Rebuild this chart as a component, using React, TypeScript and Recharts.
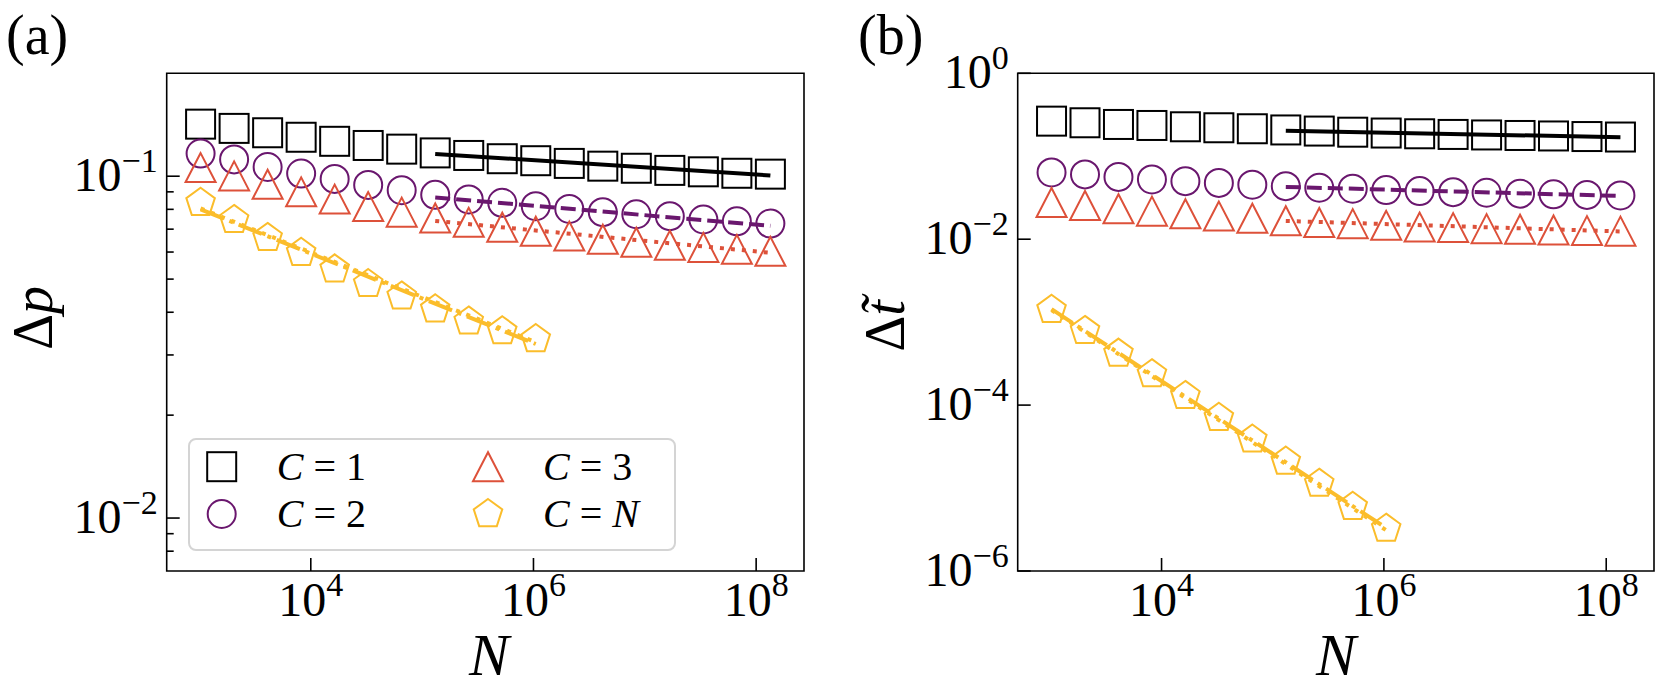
import React from 'react';
import { ComposedChart, Scatter, XAxis, YAxis, ReferenceArea } from 'recharts';

// ---------- data ----------
const N_ALL = [1024, 2048, 4096, 8192, 16384, 32768, 65536, 131072, 262144, 524288, 1048576, 2097152, 4194304, 8388608, 16777216, 33554432, 67108864, 134217728];
const N_CN = [1024, 2048, 4096, 8192, 16384, 32768, 65536, 131072, 262144, 524288, 1048576];

// panel (a): Delta p
const dpC1 = [0.142, 0.138, 0.134, 0.130, 0.1265, 0.123, 0.120, 0.117, 0.115, 0.1125, 0.111, 0.109, 0.107, 0.1055, 0.104, 0.103, 0.102, 0.1014];
const dpC2 = [0.1165, 0.112, 0.1064, 0.1018, 0.0982, 0.0943, 0.091, 0.0882, 0.0855, 0.0836, 0.0817, 0.0802, 0.0785, 0.0774, 0.0764, 0.0747, 0.0738, 0.0727];
const dpC3 = [0.106, 0.1002, 0.0947, 0.090, 0.0857, 0.0815, 0.0785, 0.0755, 0.0733, 0.0709, 0.069, 0.0668, 0.0654, 0.0641, 0.0628, 0.0619, 0.0611, 0.0603];
const dpCN = [0.0836, 0.0745, 0.066, 0.0597, 0.0534, 0.0484, 0.0445, 0.0408, 0.0376, 0.0352, 0.0334];

// panel (b): Delta t~
const dtC1 = [0.265, 0.2533, 0.2417, 0.235, 0.2266, 0.2205, 0.2145, 0.2075, 0.2012, 0.195, 0.1905, 0.1866, 0.1832, 0.1806, 0.178, 0.1756, 0.1728, 0.1705];
const dtC2 = [0.0638, 0.0604, 0.0564, 0.0525, 0.0501, 0.0477, 0.0454, 0.0436, 0.0417, 0.0406, 0.0391, 0.038, 0.0369, 0.0363, 0.0354, 0.0348, 0.0342, 0.0337];
const dtC3 = [0.0277, 0.0255, 0.0233, 0.0218, 0.0203, 0.019, 0.0179, 0.0167, 0.0159, 0.0154, 0.0147, 0.014, 0.0138, 0.0134, 0.0132, 0.0129, 0.0127, 0.0125];
const dtCN = [1.41e-3, 7.85e-4, 4.18e-4, 2.36e-4, 1.29e-4, 7.03e-5, 3.85e-5, 2.09e-5, 1.13e-5, 5.95e-6, 3.24e-6];

// fit lines (endpoints)
const fitNLarge = [131072, 134217728];
const fitNSmall = [1024, 1048576];
const fitA_C1 = [0.1162, 0.1005];
const fitA_C2 = [0.0867, 0.0716];
const fitA_C3 = [0.074, 0.0597];
const fitA_CN_dashdot = [0.080, 0.0323];
const fitA_CN_dot = [0.0805, 0.0327];
const fitB_C1 = [0.2036, 0.1694];
const fitB_C2 = [0.0427, 0.0332];
const fitB_C3 = [0.0166, 0.0124];
const fitB_CN_dashdot = [1.435e-3, 3.3e-6];
const fitB_CN_dot = [1.40e-3, 3.1e-6];

// axes
const X_DOMAIN = [508, 2.69e8];
const X_TICKS = [1e4, 1e6, 1e8];
const YA_DOMAIN = [0.007, 0.2];
const YA_TICKS = [0.008, 0.009, 0.01, 0.02, 0.03, 0.04, 0.05, 0.06, 0.07, 0.08, 0.09, 0.1];
const YA_MAJOR = [0.01, 0.1];
const YB_DOMAIN = [1e-6, 1];
const YB_TICKS = [1e-6, 1e-4, 1e-2, 1];
const YB_MAJOR = [1e-6, 1e-4, 1e-2, 1];

const LEGEND_LABELS = ['1', '2', '3', 'N'];

// ---------- styles ----------
const FONT = '"Liberation Serif", "Times New Roman", serif';
const BLACK = '#000000';
const PURPLE = '#6a176e';
const RED = '#dd513a';
const YELLOW = '#fbbd2b';
const LW = 4;

const toPts = (xs: number[], ys: number[]) => xs.map((x, i) => ({ x, y: ys[i] }));

type Kind = 'square' | 'circle' | 'triangle' | 'pentagon';

function drawMarker(kind: Kind, color: string, cx: number, cy: number, key?: string) {
  const sw = 2;
  if (kind === 'square') {
    return <rect key={key} x={cx - 14.5} y={cy - 14.5} width={29} height={29} fill="none" stroke={color} strokeWidth={sw} />;
  }
  if (kind === 'circle') {
    return <circle key={key} cx={cx} cy={cy} r={14} fill="none" stroke={color} strokeWidth={sw} />;
  }
  if (kind === 'triangle') {
    const pts = `${cx},${cy - 14.5} ${cx - 15},${cy + 14.5} ${cx + 15},${cy + 14.5}`;
    return <polygon key={key} points={pts} fill="none" stroke={color} strokeWidth={sw} strokeLinejoin="miter" />;
  }
  const r = 15;
  const pts = [0, 1, 2, 3, 4]
    .map((k) => {
      const a = ((-90 + 72 * k) * Math.PI) / 180;
      return `${cx + r * Math.cos(a)},${cy + r * Math.sin(a)}`;
    })
    .join(' ');
  return <polygon key={key} points={pts} fill="none" stroke={color} strokeWidth={sw} />;
}

const markerShape = (kind: Kind, color: string) => (p: any) => {
  if (p == null || p.cx == null || p.cy == null) return <g />;
  return drawMarker(kind, color, p.cx, p.cy);
};

const emptyShape = () => <g />;

const supText = (v: number) => {
  const e = Math.round(Math.log10(v));
  return e < 0 ? '\u2212' + String(-e) : String(e);
};

const XTick = (props: any) => {
  const { x, y, payload } = props;
  return (
    <g>
      <line x1={x} x2={x} y1={y} y2={y - 13} stroke="#000" strokeWidth={1.6} />
      <text x={x} y={y + 45} textAnchor="middle" fontFamily={FONT} fontSize={48} fill="#000">
        10
        <tspan dy={-20} fontSize={34}>{supText(payload.value)}</tspan>
      </text>
    </g>
  );
};

const makeYTick = (majors: number[]) => (props: any) => {
  const { x, y, payload } = props;
  const v = payload.value;
  const major = majors.some((m) => Math.abs(m - v) / m < 1e-6);
  return (
    <g>
      <line x1={x} x2={x + (major ? 13 : 7)} y1={y} y2={y} stroke="#000" strokeWidth={1.6} />
      {major && (
        <text x={x - 9} y={y + 15} textAnchor="end" fontFamily={FONT} fontSize={48} fill="#000">
          10
          <tspan dy={-19} fontSize={34}>{supText(v)}</tspan>
        </text>
      )}
    </g>
  );
};

type Series = { name: string; pts: { x: number; y: number }[]; kind: Kind; color: string };
type Fit = { name: string; pts: { x: number; y: number }[]; color: string; dash?: string };

function Panel(props: {
  width: number;
  height: number;
  margin: { top: number; right: number; bottom: number; left: number };
  yDomain: number[];
  yTicks: number[];
  yMajors: number[];
  series: Series[];
  fits: Fit[];
}) {
  const { width, height, margin, yDomain, yTicks, yMajors, series, fits } = props;
  return (
    <ComposedChart width={width} height={height} margin={margin}>
      <XAxis
        type="number"
        dataKey="x"
        scale="log"
        domain={X_DOMAIN}
        ticks={X_TICKS}
        interval={0}
        allowDataOverflow
        height={1}
        tickSize={0}
        tickMargin={0}
        tickLine={false}
        axisLine={false}
        tick={XTick}
      />
      <YAxis
        type="number"
        dataKey="y"
        scale="log"
        domain={yDomain}
        ticks={yTicks}
        interval={0}
        allowDataOverflow
        width={1}
        tickSize={0}
        tickMargin={0}
        tickLine={false}
        axisLine={false}
        tick={makeYTick(yMajors)}
      />
      <ReferenceArea
        x1={X_DOMAIN[0]}
        x2={X_DOMAIN[1]}
        y1={yDomain[0]}
        y2={yDomain[1]}
        fill="none"
        fillOpacity={0}
        stroke="#000"
        strokeWidth={1.6}
        strokeOpacity={1}
        ifOverflow="visible"
      />
      {series.map((s) => (
        <Scatter
          key={s.name}
          name={s.name}
          data={s.pts}
          shape={markerShape(s.kind, s.color)}
          isAnimationActive={false}
        />
      ))}
      {fits.map((f) => (
        <Scatter
          key={f.name}
          name={f.name}
          data={f.pts}
          shape={emptyShape}
          line={{ stroke: f.color, strokeWidth: LW, strokeDasharray: f.dash, fill: 'none' }}
          lineType="joint"
          isAnimationActive={false}
        />
      ))}
    </ComposedChart>
  );
}

export default function App() {
  const seriesA: Series[] = [
    { name: 'C=1', pts: toPts(N_ALL, dpC1), kind: 'square', color: BLACK },
    { name: 'C=2', pts: toPts(N_ALL, dpC2), kind: 'circle', color: PURPLE },
    { name: 'C=3', pts: toPts(N_ALL, dpC3), kind: 'triangle', color: RED },
    { name: 'C=N', pts: toPts(N_CN, dpCN), kind: 'pentagon', color: YELLOW },
  ];
  const fitsA: Fit[] = [
    { name: 'fit1', pts: toPts(fitNLarge, fitA_C1), color: BLACK },
    { name: 'fit2', pts: toPts(fitNLarge, fitA_C2), color: PURPLE, dash: '15 6' },
    { name: 'fit3', pts: toPts(fitNLarge, fitA_C3), color: RED, dash: '4 7' },
    { name: 'fitN1', pts: toPts(fitNSmall, fitA_CN_dashdot), color: YELLOW, dash: '25 6 4 6' },
    { name: 'fitN2', pts: toPts(fitNSmall, fitA_CN_dot), color: YELLOW, dash: '4 7' },
  ];
  const seriesB: Series[] = [
    { name: 'C=1', pts: toPts(N_ALL, dtC1), kind: 'square', color: BLACK },
    { name: 'C=2', pts: toPts(N_ALL, dtC2), kind: 'circle', color: PURPLE },
    { name: 'C=3', pts: toPts(N_ALL, dtC3), kind: 'triangle', color: RED },
    { name: 'C=N', pts: toPts(N_CN, dtCN), kind: 'pentagon', color: YELLOW },
  ];
  const fitsB: Fit[] = [
    { name: 'fit1', pts: toPts(fitNLarge, fitB_C1), color: BLACK },
    { name: 'fit2', pts: toPts(fitNLarge, fitB_C2), color: PURPLE, dash: '15 6' },
    { name: 'fit3', pts: toPts(fitNLarge, fitB_C3), color: RED, dash: '4 7' },
    { name: 'fitN1', pts: toPts(fitNSmall, fitB_CN_dashdot), color: YELLOW, dash: '25 6 4 6' },
    { name: 'fitN2', pts: toPts(fitNSmall, fitB_CN_dot), color: YELLOW, dash: '4 7' },
  ];

  const legendItems: { kind: Kind; color: string; x: number; y: number; label: string }[] = [
    { kind: 'square', color: BLACK, x: 221.7, y: 466.7, label: LEGEND_LABELS[0] },
    { kind: 'circle', color: PURPLE, x: 221.7, y: 514, label: LEGEND_LABELS[1] },
    { kind: 'triangle', color: RED, x: 488, y: 466.7, label: LEGEND_LABELS[2] },
    { kind: 'pentagon', color: YELLOW, x: 488, y: 514, label: LEGEND_LABELS[3] },
  ];

  return (
    <div style={{ position: 'absolute', left: 0, top: 0, width: 1661, height: 692, background: '#fff' }}>
      <div style={{ position: 'absolute', left: 0, top: 0 }}>
        <Panel
          width={840}
          height={692}
          margin={{ top: 73.3, left: 165.7, right: 36, bottom: 120 }}
          yDomain={YA_DOMAIN}
          yTicks={YA_TICKS}
          yMajors={YA_MAJOR}
          series={seriesA}
          fits={fitsA}
        />
      </div>
      <div style={{ position: 'absolute', left: 840, top: 0 }}>
        <Panel
          width={821}
          height={692}
          margin={{ top: 73.3, left: 176.7, right: 7, bottom: 120 }}
          yDomain={YB_DOMAIN}
          yTicks={YB_TICKS}
          yMajors={YB_MAJOR}
          series={seriesB}
          fits={fitsB}
        />
      </div>
      <svg
        width={1661}
        height={692}
        style={{ position: 'absolute', left: 0, top: 0, pointerEvents: 'none' }}
      >
        <text x={6} y={54} fontFamily={FONT} fontSize={56} fill="#000">(a)</text>
        <text x={858} y={54} fontFamily={FONT} fontSize={56} fill="#000">(b)</text>
        <text transform="translate(52,318) rotate(-90)" textAnchor="middle" fontFamily={FONT} fontSize={56} fill="#000">
          Δ<tspan fontStyle="italic">p</tspan>
        </text>
        <text transform="translate(904,326) rotate(-90)" textAnchor="middle" fontFamily={FONT} fontSize={56} fill="#000">
          Δ<tspan fontStyle="italic">{'t\u0303'}</tspan>
        </text>
        <text x={489} y={675} textAnchor="middle" fontFamily={FONT} fontStyle="italic" fontSize={60} fill="#000">N</text>
        <text x={1336} y={675} textAnchor="middle" fontFamily={FONT} fontStyle="italic" fontSize={60} fill="#000">N</text>
        <rect x={189} y={439} width={486} height={111} rx={7} fill="#ffffff" fillOpacity={0.8} stroke="#d4d4d4" strokeWidth={2} />
        {legendItems.map((it, i) => (
          <g key={i}>
            {drawMarker(it.kind, it.color, it.x, it.y)}
            <text x={it.x + 55} y={it.y + 13} fontFamily={FONT} fontSize={40} fill="#000">
              <tspan fontStyle="italic">C</tspan>
              <tspan dx={10}>=</tspan>
              {it.label === 'N' ? (
                <tspan dx={10} fontStyle="italic">N</tspan>
              ) : (
                <tspan dx={10}>{it.label}</tspan>
              )}
            </text>
          </g>
        ))}
      </svg>
    </div>
  );
}
